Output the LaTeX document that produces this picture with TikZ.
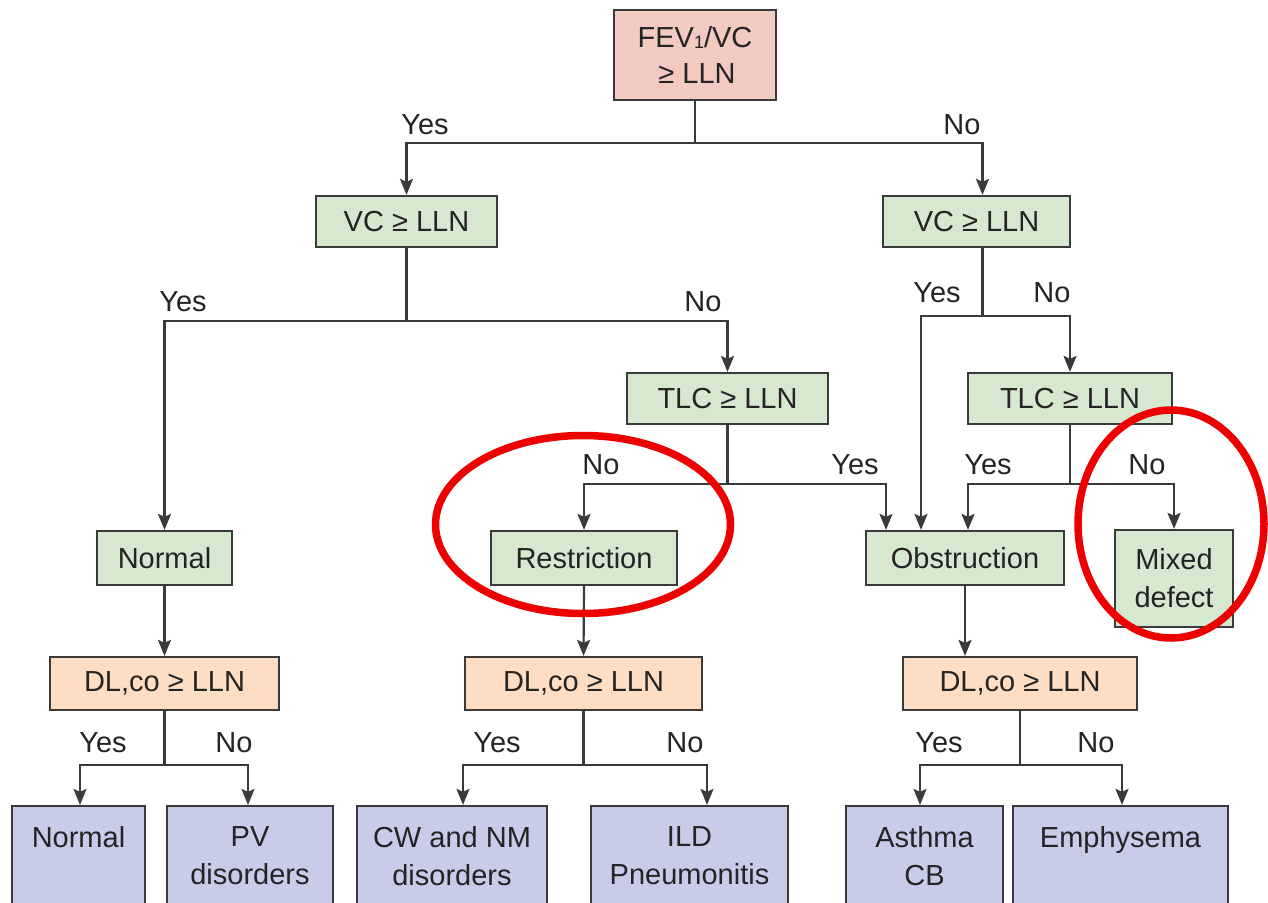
\documentclass[tikz,border=0pt]{standalone}
\usepackage{fontspec}
\setmainfont{Liberation Sans}
\usetikzlibrary{arrows.meta}
\definecolor{pinkfill}{RGB}{243,202,194}
\definecolor{greenfill}{RGB}{214,232,208}
\definecolor{peachfill}{RGB}{253,222,196}
\definecolor{lavfill}{RGB}{200,204,232}
\definecolor{edge}{RGB}{58,58,58}
\definecolor{ink}{RGB}{36,36,36}
\definecolor{ring}{RGB}{236,0,0}
\tikzset{
  box/.style={draw=edge, line width=2.2pt, inner sep=0pt, align=center,
    text=ink, font=\fontsize{29}{38}\selectfont},
  question/.style={box, fill=greenfill},
  start/.style={box, fill=pinkfill, font=\fontsize{29}{36}\selectfont},
  diffusion/.style={box, fill=peachfill},
  result/.style={box, fill=greenfill},
  diagnosis/.style={box, fill=lavfill, minimum height=100pt},
  link/.style={draw=edge, line width=2.2pt},
  arr/.style={link, -{Stealth[length=16pt,width=13pt,inset=3pt]}},
  lbl/.style={text=ink, font=\fontsize{29}{34}\selectfont, inner sep=0pt},
  circled/.style={draw=ring, line width=7.5pt}
}
\begin{document}
\begin{tikzpicture}[x=1pt,y=-1pt]
\useasboundingbox[fill=white] (0,0) rectangle (1268,902);

% decision boxes
\node[start, minimum width=162pt, minimum height=90pt] (fev) at (695,55)
  {FEV{\fontsize{18}{18}\selectfont\raisebox{-1pt}{1}}/VC\\$\,$≥ LLN};
\node[question, minimum width=181pt, minimum height=51pt] (vcL) at (406.5,221.5) {VC ≥ LLN};
\node[question, minimum width=187pt, minimum height=51pt] (vcR) at (976.5,221.5) {VC ≥ LLN};
\node[question, minimum width=201pt, minimum height=51pt] (tlcL) at (727.5,398.5) {TLC ≥ LLN};
\node[question, minimum width=204pt, minimum height=51pt] (tlcR) at (1070,398.5) {TLC ≥ LLN};

% patterns
\node[result, minimum width=135pt, minimum height=54pt] (nrm) at (164.5,558) {Normal};
\node[result, minimum width=186pt, minimum height=54pt] (rst) at (584,558) {Restriction};
\node[result, minimum width=198pt, minimum height=54pt] (obs) at (965,558) {Obstruction};
\node[result, minimum width=118pt, minimum height=97pt] (mix) at (1174,578.5) {Mixed\\defect};

% diffusing capacity
\node[diffusion, minimum width=229pt, minimum height=53pt] (dlL) at (164.5,683.5) {DL,co ≥ LLN};
\node[diffusion, minimum width=237pt, minimum height=53pt] (dlM) at (583.5,683.5) {DL,co ≥ LLN};
\node[diffusion, minimum width=234pt, minimum height=53pt] (dlR) at (1020,683.5) {DL,co ≥ LLN};

% diagnoses (their lower edges run off the page)
\node[diagnosis, minimum width=133pt] (b1) at (78.5,856) {Normal\\\mbox{}};
\node[diagnosis, minimum width=166pt] (b2) at (250,856) {PV\\disorders};
\node[diagnosis, minimum width=190pt] (b3) at (452,856) {CW and NM\\disorders};
\node[diagnosis, minimum width=197pt] (b4) at (689.5,856) {ILD\\Pneumonitis};
\node[diagnosis, minimum width=157pt] (b5) at (924.5,856) {Asthma\\CB};
\node[diagnosis, minimum width=215pt] (b6) at (1120.5,856) {Emphysema\\\mbox{}};

% branch points
\coordinate (j0) at (695,143);
\coordinate (j1) at (406.5,321);
\coordinate (j2) at (982.5,316);
\coordinate (j3) at (727.5,484);
\coordinate (j4) at (1070,484);
\coordinate (j5) at (164.5,765);
\coordinate (j6) at (583.5,765);
\coordinate (j7) at (1020,765);

% connectors
\draw[link] (fev.south) -- (j0);
\draw[arr] (j0) -| (vcL.north);
\draw[arr] (j0) -| ([xshift=6pt]vcR.north);

\draw[link] (vcL.south) -- (j1);
\draw[arr] (j1) -| (nrm.north);
\draw[arr] (j1) -| (tlcL.north);

\draw[link] ([xshift=6pt]vcR.south) -- (j2);
\draw[arr] (j2) -| ([xshift=-44pt]obs.north);
\draw[arr] (j2) -| (tlcR.north);

\draw[link] (tlcL.south) -- (j3);
\draw[arr] (j3) -| (rst.north);
\draw[arr] (j3) -| ([xshift=-79pt]obs.north);

\draw[link] (tlcR.south) -- (j4);
\draw[arr] (j4) -| ([xshift=3pt]obs.north);
\draw[arr] (j4) -| (mix.north);

\draw[arr] (nrm.south) -- (dlL.north);
\draw[arr] (rst.south) -- (dlM.north);
\draw[arr] (obs.south) -- (obs.south |- dlR.north);

\draw[link] (dlL.south) -- (j5);
\draw[arr] (j5) -| ([xshift=1.5pt]b1.north);
\draw[arr] (j5) -| ([xshift=-2pt]b2.north);

\draw[link] (dlM.south) -- (j6);
\draw[arr] (j6) -| ([xshift=11pt]b3.north);
\draw[arr] (j6) -| ([xshift=17.5pt]b4.north);

\draw[link] (dlR.south) -- (j7);
\draw[arr] (j7) -| ([xshift=-4.5pt]b5.north);
\draw[arr] (j7) -| ([xshift=1.5pt]b6.north);

% branch labels
\node[lbl] (y0) at (425,125) {Yes};
\node[lbl] (n0) at (962,125) {No};
\node[lbl] (y1) at (183,302) {Yes};
\node[lbl] (n1) at (703,302) {No};
\node[lbl] (y2) at (937,293) {Yes};
\node[lbl] (n2) at (1052,293) {No};
\node[lbl] (n3) at (601,465) {No};
\node[lbl] (y3) at (855,465) {Yes};
\node[lbl] (y4) at (988,465) {Yes};
\node[lbl] (n4) at (1147,465) {No};
\node[lbl] (y5) at (103,743) {Yes};
\node[lbl] (n5) at (234,743) {No};
\node[lbl] (y6) at (497,743) {Yes};
\node[lbl] (n6) at (685,743) {No};
\node[lbl] (y7) at (939,743) {Yes};
\node[lbl] (n7) at (1096,743) {No};

% highlight rings
\draw[circled] (583,524.5) ellipse [x radius=147.5pt, y radius=89pt];
\draw[circled] (1171,524) ellipse [x radius=93pt, y radius=114pt];
\end{tikzpicture}
\end{document}
